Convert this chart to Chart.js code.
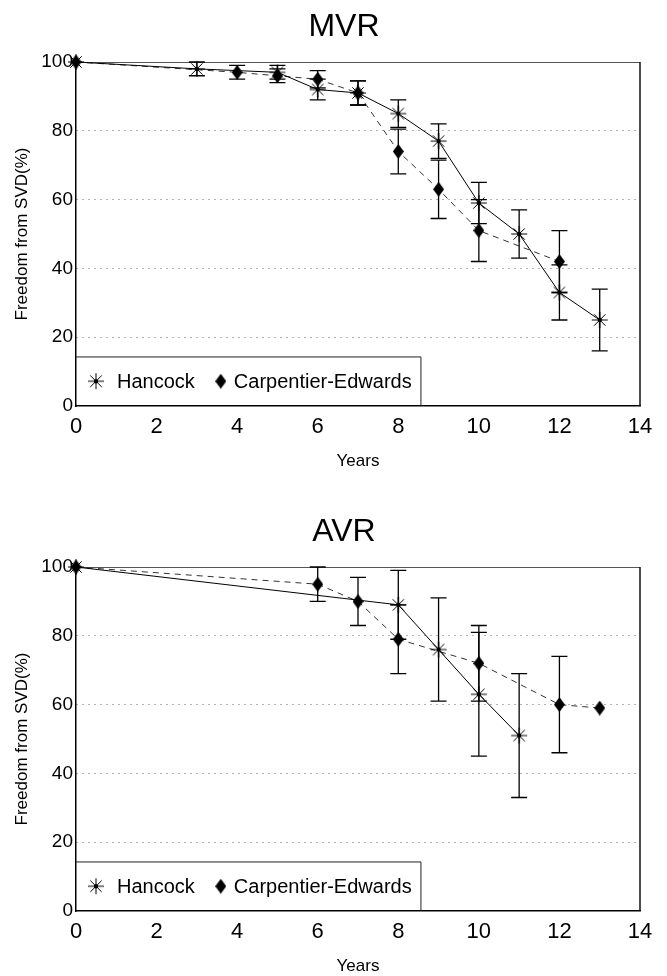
<!DOCTYPE html>
<html><head><meta charset="utf-8">
<script src="https://cdn.jsdelivr.net/npm/chart.js@4.4.0/dist/chart.umd.min.js"></script>
<style>
html,body{margin:0;padding:0;background:#fff;overflow:hidden;width:667px;height:976px;}
.wrap{position:absolute;left:0;width:667px;height:505px;}
</style></head><body>
<div class="wrap" style="top:0"><canvas id="mvr" width="667" height="505"></canvas></div>
<div class="wrap" style="top:505px"><canvas id="avr" width="667" height="505"></canvas></div>
<script>
// ---- data ----
const chartTitles = ['MVR', 'AVR'];
const seriesNames = ['Hancock', 'Carpentier-Edwards'];
const xTicks = [0, 2, 4, 6, 8, 10, 12, 14];
const yTicks = [0, 20, 40, 60, 80, 100];
const xAxisLabel = 'Years';
const yAxisLabel = 'Freedom from SVD(%)';

// MVR
const mvrHancockYears  = [0, 3, 5, 6, 7, 8, 9, 10, 11, 12, 13];
const mvrHancockValues = [100, 98, 97, 92, 91, 85, 77, 59, 50, 33, 25];
const mvrHancockErrors = [0, 2, 2, 3, 3.5, 4, 5, 6, 7, 8, 9];
const mvrCEYears  = [0, 4, 5, 6, 7, 8, 9, 10, 12];
const mvrCEValues = [100, 97, 96, 95, 91, 74, 63, 51, 42];
const mvrCEErrors = [0, 2, 2, 2.5, 3.5, 6.5, 8.5, 9, 9];

// AVR
const avrHancockYears  = [0, 8, 9, 10, 11];
const avrHancockValues = [100, 89, 76, 63, 51];
const avrHancockErrors = [0, 10, 15, 18, 18];
const avrCEYears  = [0, 6, 7, 8, 10, 12, 13];
const avrCEValues = [100, 95, 90, 79, 72, 60, 59];
const avrCEErrors = [0, 5, 7, 10, 11, 14, 0];

// ---- styling helpers ----
const FONT = '"Liberation Sans", Arial, Helvetica, sans-serif';

function makeStar(r) {
  const s = 2 * r + 2, c = document.createElement('canvas');
  c.width = s; c.height = s;
  const g = c.getContext('2d'), cx = s / 2, cy = s / 2;
  g.strokeStyle = '#000'; g.lineWidth = 1;
  for (let k = 0; k < 4; k++) {
    const a = k * Math.PI / 4;
    g.beginPath();
    g.moveTo(cx - r * Math.cos(a), cy - r * Math.sin(a));
    g.lineTo(cx + r * Math.cos(a), cy + r * Math.sin(a));
    g.stroke();
  }
  g.fillStyle = '#000';
  g.beginPath(); g.arc(cx, cy, 2.2, 0, 2 * Math.PI); g.fill();
  return c;
}
function makeDiamond(w, h) {
  const c = document.createElement('canvas');
  c.width = w; c.height = h;
  const g = c.getContext('2d');
  g.fillStyle = '#000';
  g.beginPath();
  g.moveTo(w / 2, 0); g.lineTo(w, h / 2); g.lineTo(w / 2, h); g.lineTo(0, h / 2);
  g.closePath(); g.fill();
  return c;
}
const starImg = makeStar(8);
const diamondImg = makeDiamond(11, 15);

const toPoints = (xs, ys) => xs.map((x, i) => ({x: x, y: ys[i]}));

const errorBars = {
  id: 'errorBars',
  afterDatasetsDraw(chart) {
    const {ctx} = chart, xs = chart.scales.x, ys = chart.scales.y;
    chart.data.datasets.forEach(ds => {
      if (!ds.errors) return;
      ds.data.forEach((p, j) => {
        const e = ds.errors[j];
        if (!e) return;
        const px = xs.getPixelForValue(p.x);
        const yt = ys.getPixelForValue(p.y + e);
        const yb = ys.getPixelForValue(p.y - e);
        ctx.save();
        ctx.strokeStyle = '#000'; ctx.lineWidth = 1.3;
        ctx.beginPath();
        ctx.moveTo(px, yt); ctx.lineTo(px, yb);
        ctx.moveTo(px - 8, yt); ctx.lineTo(px + 8, yt);
        ctx.moveTo(px - 8, yb); ctx.lineTo(px + 8, yb);
        ctx.stroke();
        ctx.restore();
      });
    });
  }
};

const frame = {
  id: 'frame',
  beforeDatasetsDraw(chart) {
    const {ctx, chartArea: a} = chart;
    ctx.save();
    ctx.strokeStyle = '#555'; ctx.lineWidth = 1;
    ctx.beginPath(); ctx.moveTo(a.left, a.top + 0.5); ctx.lineTo(a.right, a.top + 0.5); ctx.stroke();
    ctx.strokeStyle = '#111'; ctx.lineWidth = 1.5;
    ctx.beginPath(); ctx.moveTo(a.right, a.top); ctx.lineTo(a.right, a.bottom); ctx.stroke();
    ctx.restore();
  }
};

const boxLegend = {
  id: 'boxLegend',
  afterDraw(chart) {
    const {ctx} = chart, xs = chart.scales.x, ys = chart.scales.y;
    const x0 = xs.getPixelForValue(0), x1 = xs.getPixelForValue(8.55);
    const yT = ys.getPixelForValue(14.4), yB = ys.getPixelForValue(0);
    ctx.save();
    ctx.fillStyle = '#fff';
    ctx.fillRect(x0 + 1, yT, x1 - x0 - 1, yB - yT - 1);
    ctx.strokeStyle = '#222'; ctx.lineWidth = 1;
    ctx.beginPath(); ctx.moveTo(x0, yT + 0.5); ctx.lineTo(x1 + 0.5, yT + 0.5); ctx.lineTo(x1 + 0.5, yB); ctx.stroke();
    const cy = (yT + yB) / 2;
    ctx.font = '20px ' + FONT; ctx.fillStyle = '#000'; ctx.textBaseline = 'middle';
    let cx = x0 + 20;
    const dsets = chart.data.datasets;
    dsets.forEach((ds, i) => {
      const img = ds.pointStyle;
      ctx.drawImage(img, cx - img.width / 2, cy - img.height / 2);
      const tx = cx + (i === 0 ? 21 : 13);
      ctx.fillText(ds.label, tx, cy + 1);
      cx = tx + ctx.measureText(ds.label).width + 26;
    });
    ctx.restore();
  }
};

const titleText = {
  id: 'titleText',
  afterDraw(chart, args, opts) {
    const {ctx} = chart;
    ctx.save();
    ctx.font = '32px ' + FONT; ctx.fillStyle = '#000';
    ctx.textAlign = 'center'; ctx.textBaseline = 'middle';
    ctx.fillText(opts.text, 344, 27);
    ctx.restore();
  }
};

function buildChart(id, title, hx, hv, he, cx, cv, ce) {
  return new Chart(document.getElementById(id), {
    type: 'line',
    data: {
      datasets: [
        {label: seriesNames[0], data: toPoints(hx, hv), errors: he,
         borderColor: '#000', borderWidth: 1, pointStyle: starImg,
         pointRadius: 8, tension: 0, fill: false, clip: false},
        {label: seriesNames[1], data: toPoints(cx, cv), errors: ce,
         borderColor: '#333', borderWidth: 1, borderDash: [6, 5], pointStyle: diamondImg,
         pointRadius: 8, tension: 0, fill: false, clip: false}
      ]
    },
    plugins: [frame, errorBars, boxLegend, titleText],
    options: {
      responsive: false, animation: false,
      layout: {padding: {top: 62, left: 0, right: 27, bottom: 0}},
      plugins: {legend: {display: false}, tooltip: {enabled: false}, titleText: {text: title}},
      scales: {
        x: {
          type: 'linear', min: 0, max: 14,
          afterFit(s) { s.height = 99; },
          afterBuildTicks(s) { s.ticks = xTicks.map(v => ({value: v})); },
          ticks: {font: {size: 22, family: FONT}, color: '#000', padding: 8, autoSkip: false, maxRotation: 0},
          grid: {display: false, drawTicks: false},
          border: {display: true, color: '#000', width: 1.5},
          title: {display: true, text: xAxisLabel, color: '#000', font: {size: 17, family: FONT}, padding: {top: 0, bottom: 33}}
        },
        y: {
          min: 0, max: 100,
          afterFit(s) { s.width = 76; },
          afterBuildTicks(s) { s.ticks = yTicks.map(v => ({value: v})); },
          ticks: {font: {size: 19, family: FONT}, color: '#000', padding: 3},
          grid: {drawTicks: false, lineWidth: 1,
                 color: c => (c.tick && (c.tick.value === 0 || c.tick.value === 100)) ? 'rgba(0,0,0,0)' : '#666'},
          border: {display: true, color: '#000', width: 1.5, dash: [1, 5]},
          title: {display: true, text: yAxisLabel, color: '#000', font: {size: 17, family: FONT}, padding: {top: 12, bottom: 0}}
        }
      }
    }
  });
}

buildChart('mvr', chartTitles[0], mvrHancockYears, mvrHancockValues, mvrHancockErrors, mvrCEYears, mvrCEValues, mvrCEErrors);
buildChart('avr', chartTitles[1], avrHancockYears, avrHancockValues, avrHancockErrors, avrCEYears, avrCEValues, avrCEErrors);
</script>
</body></html>
